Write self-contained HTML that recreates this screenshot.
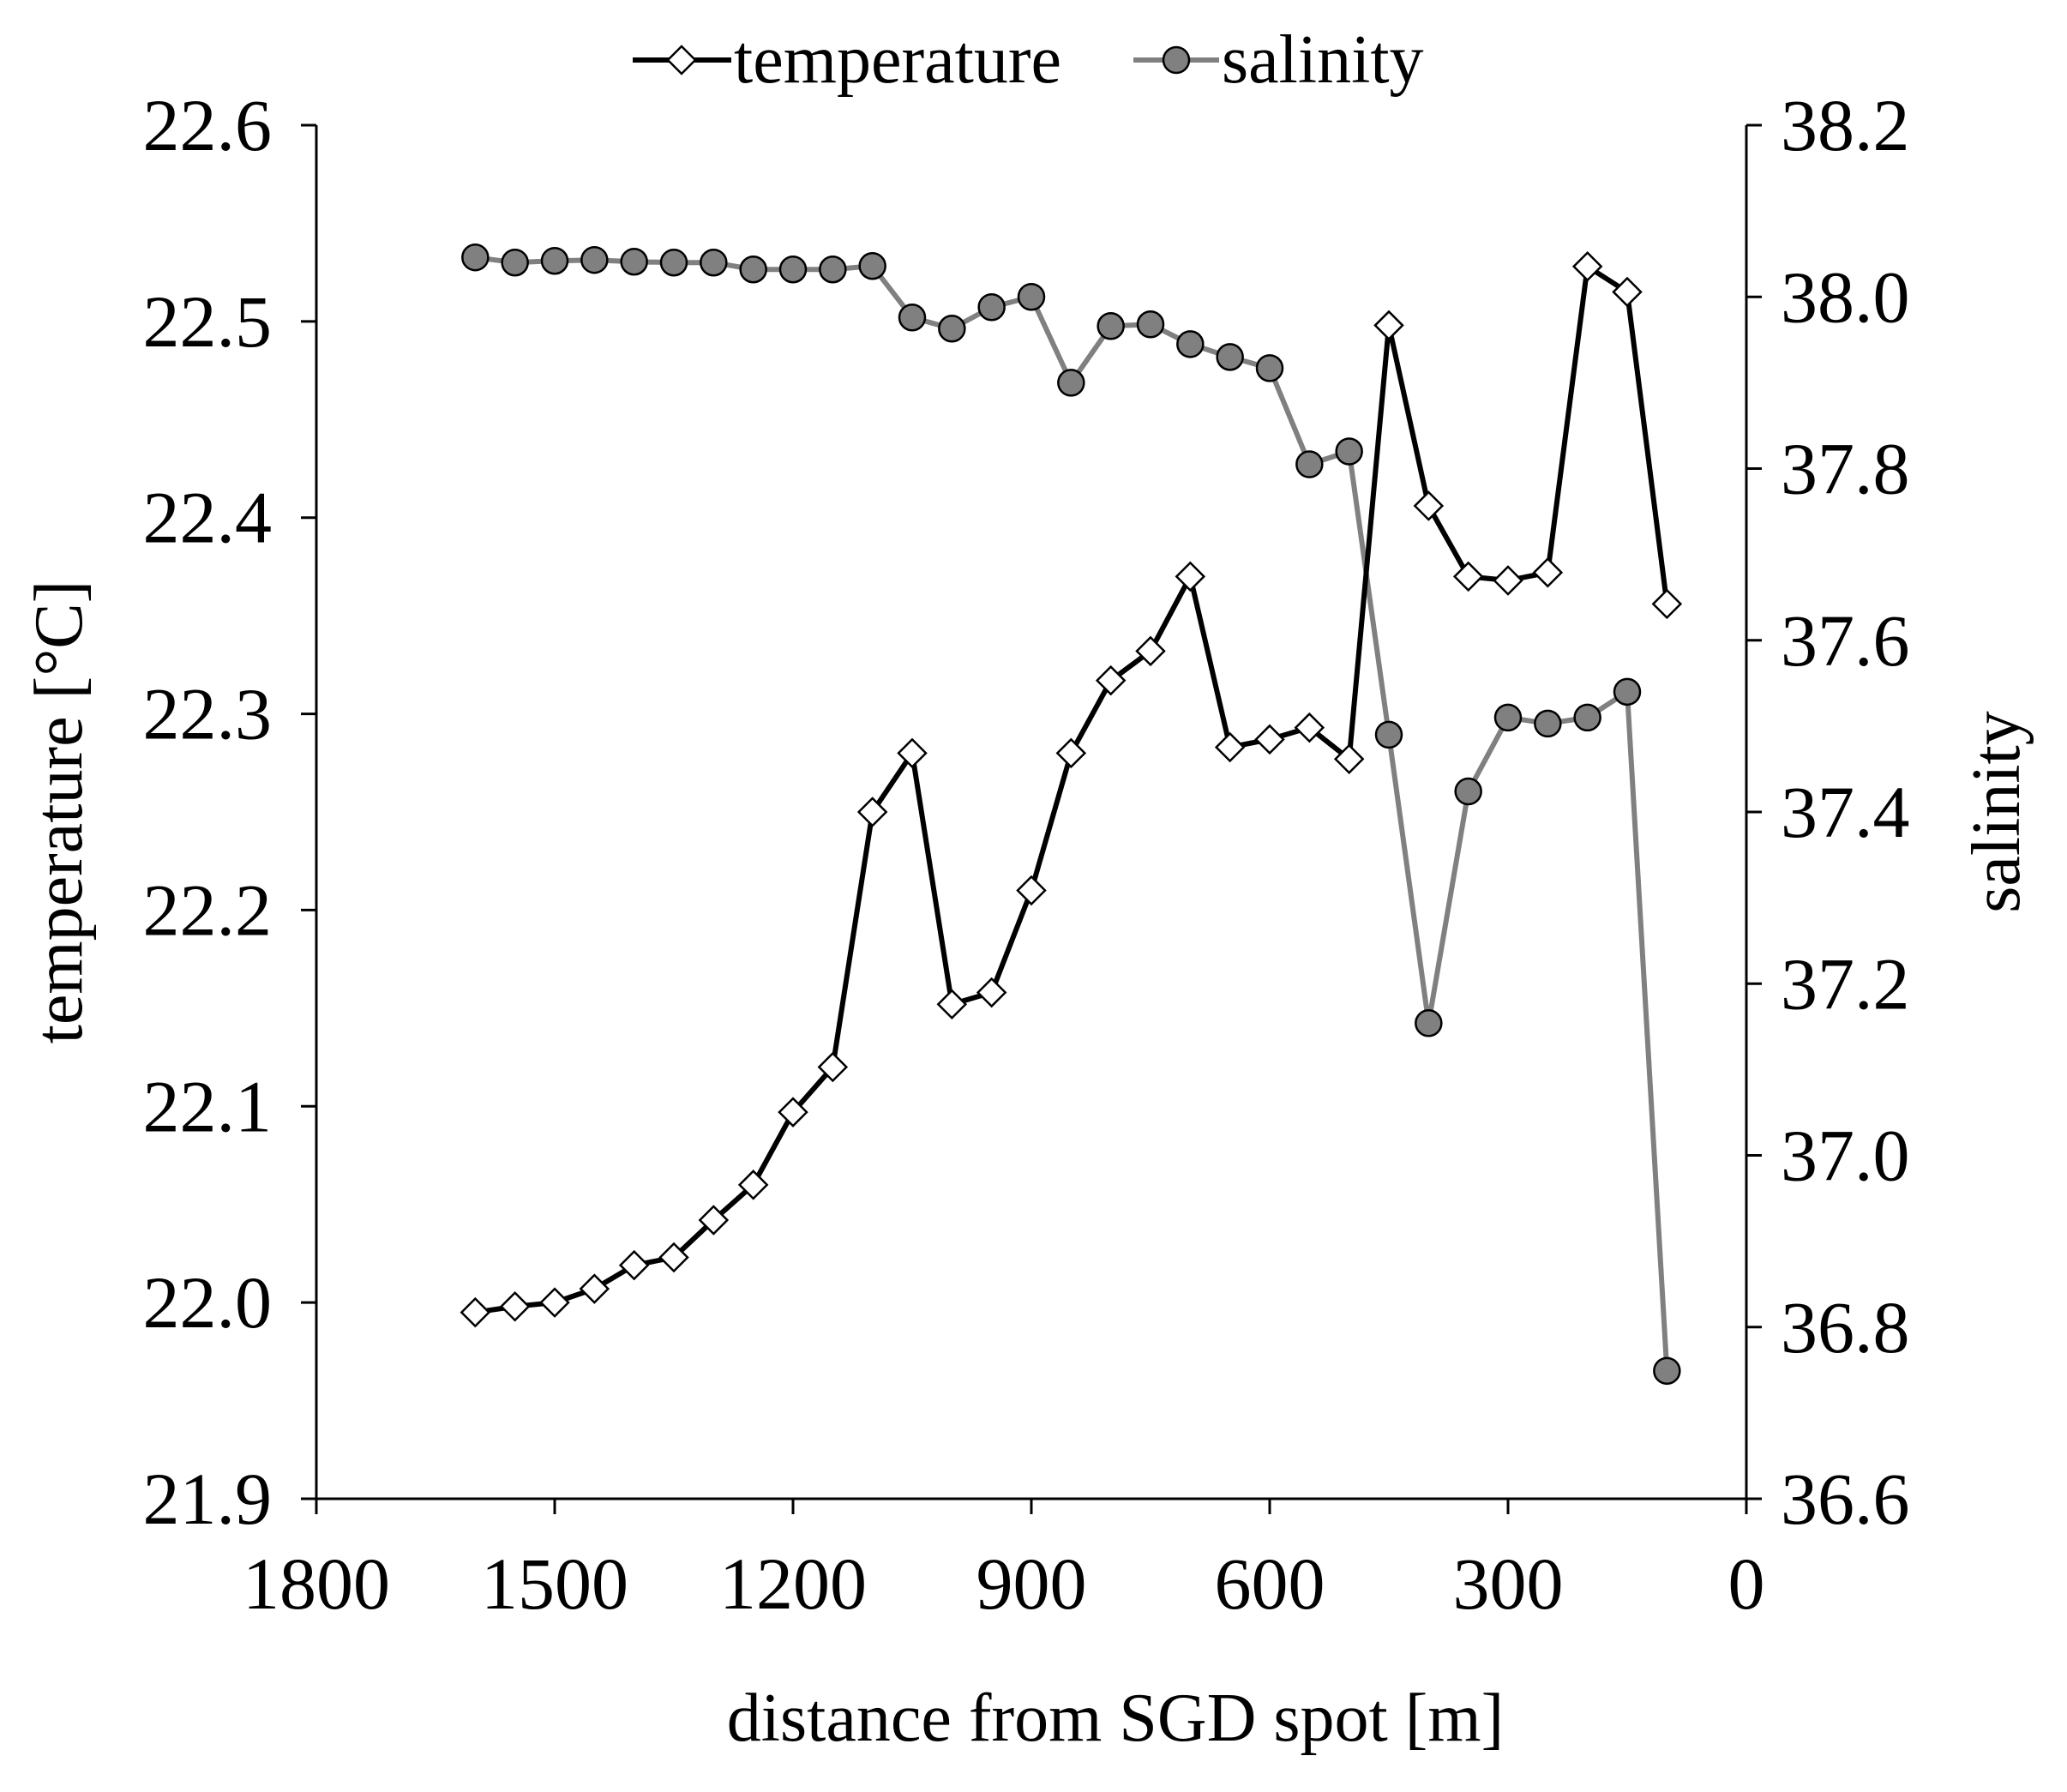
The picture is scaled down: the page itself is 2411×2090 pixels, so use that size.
<!DOCTYPE html>
<html><head><meta charset="utf-8"><style>html,body{margin:0;padding:0;background:#fff}svg{display:block}</style></head>
<body>
<svg id="chart" width="2411" height="2090" viewBox="0 0 2411 2090" xmlns="http://www.w3.org/2000/svg" font-family="'Liberation Serif', serif"></svg>
<script>
const distances=[1600,1550,1500,1450,1400,1350,1300,1250,1200,1150,1100,1050,1000,950,900,850,800,750,700,650,600,550,500,450,400,350,300,250,200,150,100];
const temperature=[21.995,21.998,22.0,22.007,22.019,22.023,22.042,22.06,22.097,22.12,22.25,22.28,22.152,22.158,22.21,22.28,22.317,22.332,22.37,22.283,22.287,22.293,22.277,22.498,22.406,22.37,22.368,22.372,22.528,22.515,22.356];
const salinity=[38.046,38.040,38.042,38.043,38.041,38.040,38.040,38.032,38.032,38.032,38.036,37.976,37.963,37.988,38.0,37.90,37.966,37.968,37.945,37.93,37.917,37.805,37.82,37.49,37.154,37.424,37.51,37.503,37.51,37.54,36.749];
const xTicks=[1800,1500,1200,900,600,300,0];
const tTicks=[21.9,22.0,22.1,22.2,22.3,22.4,22.5,22.6];
const sTicks=[36.6,36.8,37.0,37.2,37.4,37.6,37.8,38.0,38.2];
const L=369,R=2037,T=146,B=1748;
const X=v=>L+(1800-v)/1800*(R-L);
const YT=v=>B-(v-21.9)/0.7*(B-T);
const YS=v=>B-(v-36.6)/1.6*(B-T);
const svg=document.getElementById('chart');
const NS='http://www.w3.org/2000/svg';
function mk(tag,attrs,parent){const e=document.createElementNS(NS,tag);for(const k in attrs)e.setAttribute(k,attrs[k]);(parent||svg).appendChild(e);return e;}
function txt(s,attrs){const e=mk('text',attrs);e.textContent=s;return e;}
let a=mk('line',{x1:L,y1:T,x2:L,y2:B,stroke:'#000','stroke-width':3});


a=mk('line',{x1:R,y1:T,x2:R,y2:B,stroke:'#000','stroke-width':3});


a=mk('line',{x1:L,y1:B,x2:R,y2:B,stroke:'#000','stroke-width':3});


tTicks.forEach(v=>{const y=YT(v);mk('line',{x1:L-18,y1:y,x2:L,y2:y,stroke:'#000','stroke-width':3});
const t=txt(v.toFixed(1),{x:L-52,y:y+29,'font-size':86,'text-anchor':'end'});

});
sTicks.forEach(v=>{const y=YS(v);mk('line',{x1:R,y1:y,x2:R+18,y2:y,stroke:'#000','stroke-width':3});
const t=txt(v.toFixed(1),{x:R+40,y:y+29,'font-size':86,'text-anchor':'start'});

});
xTicks.forEach(v=>{const x=X(v);mk('line',{x1:x,y1:B,x2:x,y2:B+18,stroke:'#000','stroke-width':3});
const t=txt(String(v),{x:x,y:B+128,'font-size':86,'text-anchor':'middle'});

});
let t=txt('distance from SGD spot [m]',{x:1301,y:2030,'font-size':80,'text-anchor':'middle'});


t=txt('temperature [°C]',{x:0,y:0,'font-size':80,'text-anchor':'middle',transform:`translate(95,${(T+B)/2}) rotate(-90)`});


t=txt('salinity',{x:0,y:0,'font-size':80,'text-anchor':'middle',transform:`translate(2355,${(T+B)/2}) rotate(-90)`});


let p=mk('polyline',{points:distances.map((d,i)=>X(d)+','+YS(salinity[i])).join(' '),fill:'none',stroke:'#808080','stroke-width':6});


p=mk('polyline',{points:distances.map((d,i)=>X(d)+','+YT(temperature[i])).join(' '),fill:'none',stroke:'#000','stroke-width':6});


distances.forEach((d,i)=>{const c=mk('circle',{cx:X(d),cy:YS(salinity[i]),r:15,fill:'#808080',stroke:'#000','stroke-width':2.5});

});
distances.forEach((d,i)=>{const x=X(d),y=YT(temperature[i]),s=16;
const m=mk('polygon',{points:`${x},${y-s} ${x+s},${y} ${x},${y+s} ${x-s},${y}`,fill:'#fff',stroke:'#000','stroke-width':2.5});

});
const g=mk('g',{});


mk('line',{x1:738,y1:70,x2:853,y2:70,stroke:'#000','stroke-width':6},g);
mk('polygon',{points:'795,54 811,70 795,86 779,70',fill:'#fff',stroke:'#000','stroke-width':2.5},g);
let lt=mk('text',{x:856,y:96,'font-size':80},g);lt.textContent='temperature';


mk('line',{x1:1322,y1:70,x2:1422,y2:70,stroke:'#808080','stroke-width':6},g);
mk('circle',{cx:1372,cy:70,r:15,fill:'#808080',stroke:'#000','stroke-width':2.5},g);
lt=mk('text',{x:1425,y:96,'font-size':80},g);lt.textContent='salinity';


</script>
</body></html>
